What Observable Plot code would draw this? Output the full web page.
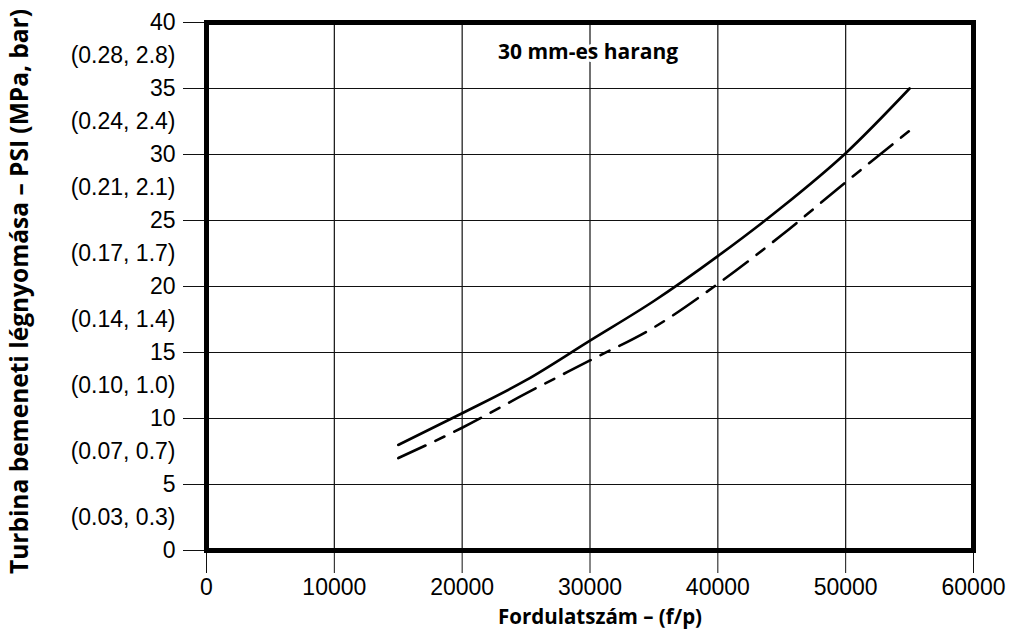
<!DOCTYPE html>
<html>
<head>
<meta charset="utf-8">
<script src="https://cdn.jsdelivr.net/npm/d3@7"></script>
<script src="https://cdn.jsdelivr.net/npm/@observablehq/plot@0.6"></script>
<style>
  html, body { margin: 0; padding: 0; background: #fff; }
</style>
</head>
<body>
<div id="chart"></div>
<script>
// Data
const rpm = [15000, 20000, 25000, 30000, 35000, 40000, 45000, 50000, 55000];
const solidPsi = [8.0, 10.4, 12.9, 15.9, 18.9, 22.3, 26.0, 30.1, 35.0];
const dashedPsi = [7.0, 9.3, 11.9, 14.4, 16.9, 20.2, 23.9, 27.9, 31.8];

const xTicks = [0, 10000, 20000, 30000, 40000, 50000, 60000];
const yTicks = [0, 5, 10, 15, 20, 25, 30, 35, 40];
const secondaryPositions = [2.5, 7.5, 12.5, 17.5, 22.5, 27.5, 32.5, 37.5];
const secondaryLabels = ["(0.03, 0.3)", "(0.07, 0.7)", "(0.10, 1.0)", "(0.14, 1.4)", "(0.17, 1.7)", "(0.21, 2.1)", "(0.24, 2.4)", "(0.28, 2.8)"];

const chartTitle = "30 mm-es harang";
const xTitle = "Fordulatszám – (f/p)";
const yTitle = "Turbina bemeneti légnyomása – PSI (MPa, bar)";

const solidData = rpm.map((x, i) => ({x, y: solidPsi[i]}));
const dashedData = rpm.map((x, i) => ({x, y: dashedPsi[i]}));
const secMap = new Map(secondaryPositions.map((p, i) => [p, secondaryLabels[i]]));

const boldFont = "'Open Sans', 'Noto Sans', sans-serif";

const chart = Plot.plot({
  width: 1021,
  height: 635,
  marginLeft: 206,
  marginRight: 48,
  marginTop: 22,
  marginBottom: 85,
  x: {domain: [0, 60000]},
  y: {domain: [0, 40]},
  style: {fontFamily: "'Liberation Sans', Arial, sans-serif", fontSize: "23px", color: "black", background: "white"},
  marks: [
    Plot.gridX(xTicks, {stroke: "#111", strokeOpacity: 1, strokeWidth: 1.2}),
    Plot.gridY(yTicks, {stroke: "#111", strokeOpacity: 1, strokeWidth: 1.2}),
    Plot.axisY(yTicks, {tickSize: 23, tickPadding: 8, fontSize: 23, tickFormat: d => String(d), label: null, stroke: "#111"}),
    Plot.axisY(secondaryPositions, {tickSize: 0, tickPadding: 31, fontSize: 23, tickFormat: d => secMap.get(d), label: null}),
    Plot.axisX(xTicks, {tickSize: 23, tickPadding: 5, fontSize: 23, tickFormat: d => String(d), label: null, stroke: "#111"}),
    Plot.line(solidData, {x: "x", y: "y", curve: "monotone-x", stroke: "black", strokeWidth: 2.6}),
    Plot.line(dashedData, {x: "x", y: "y", curve: "monotone-x", stroke: "black", strokeWidth: 2.6, strokeDasharray: "30,11,10,11"}),
    Plot.text([chartTitle], {frameAnchor: "top", dy: 30, dx: -2, textAnchor: "middle", lineAnchor: "middle", text: d => d, fontFamily: boldFont, fontWeight: "bold", fontSize: 21, fill: "black", stroke: "white", strokeWidth: 6}),
    Plot.text([xTitle], {frameAnchor: "bottom", dy: 67, dx: 10, textAnchor: "middle", lineAnchor: "middle", text: d => d, fontFamily: boldFont, fontWeight: "bold", fontSize: 20.5, fill: "black"}),
    Plot.text([yTitle], {frameAnchor: "left", dx: -186, dy: 5, rotate: -90, textAnchor: "middle", lineAnchor: "middle", text: d => d, fontFamily: boldFont, fontWeight: "bold", fontSize: 24.5, fill: "black"}),
    Plot.frame({stroke: "black", strokeWidth: 5})
  ]
});
document.getElementById("chart").appendChild(chart);
</script>
</body>
</html>
